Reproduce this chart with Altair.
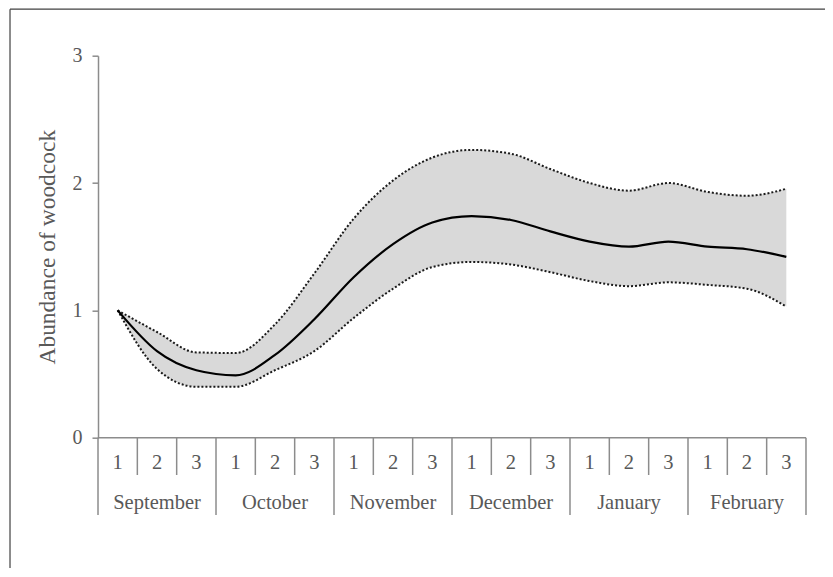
import altair as alt
import pandas as pd

months = ["September", "October", "November", "December", "January", "February"]
decades = ["1", "2", "3"]
mean = [1.00, 0.68, 0.53, 0.49, 0.65, 0.93, 1.26, 1.52, 1.69, 1.74, 1.71, 1.62, 1.54, 1.50, 1.54, 1.50, 1.48, 1.42]
upper = [1.00, 0.83, 0.67, 0.665, 0.89, 1.29, 1.72, 2.02, 2.20, 2.26, 2.23, 2.11, 2.00, 1.94, 2.00, 1.93, 1.90, 1.955]
lower = [1.00, 0.54, 0.40, 0.40, 0.53, 0.68, 0.94, 1.17, 1.34, 1.38, 1.36, 1.30, 1.23, 1.19, 1.22, 1.20, 1.17, 1.03]
y_ticks = [0, 1, 2, 3]

TXT = "#595959"
AX = "#8c8c8c"
FONT = "Liberation Serif"

n = len(mean)
df = pd.DataFrame({
    "pos": [i + 0.5 for i in range(n)],
    "mean": mean,
    "upper": upper,
    "lower": lower,
    "decade": [decades[i % 3] for i in range(n)],
    "month": [months[i // 3] for i in range(n)],
})

# separators below the axis (decade and month boundaries)
sep_df = pd.DataFrame({
    "x": list(range(n + 1)),
    "top": [0] * (n + 1),
    "bottom": [-0.607 if i % 3 == 0 else -0.293 for i in range(n + 1)],
})
hline_df = pd.DataFrame({"x0": [0], "x1": [n], "y": [0]})
month_df = pd.DataFrame({"pos": [3 * m + 1.5 for m in range(len(months))], "month": months, "y": [-0.513] * len(months)})
dec_df = df.assign(y=-0.2)

xs = alt.Scale(domain=[0, n], nice=False, zero=False)
ys = alt.Scale(domain=[0, 3], nice=False)
y_axis = alt.Axis(values=y_ticks, title="Abundance of woodcock", grid=False, tickSize=6,
                  labelPadding=10, titlePadding=13)

band = alt.Chart(df).mark_area(color="#d9d9d9", interpolate="monotone").encode(
    x=alt.X("pos:Q", scale=xs, axis=None),
    y=alt.Y("lower:Q", scale=ys, axis=y_axis),
    y2="upper:Q",
)
dot_style = dict(color="#1a1a1a", strokeWidth=2, strokeDash=[2, 2], interpolate="monotone")
up_line = alt.Chart(df).mark_line(**dot_style).encode(
    x=alt.X("pos:Q", scale=xs, axis=None),
    y=alt.Y("upper:Q", scale=ys, axis=y_axis),
)
lo_line = alt.Chart(df).mark_line(**dot_style).encode(
    x=alt.X("pos:Q", scale=xs, axis=None),
    y=alt.Y("lower:Q", scale=ys, axis=y_axis),
)
main_line = alt.Chart(df).mark_line(color="#000000", strokeWidth=2.2, interpolate="monotone").encode(
    x=alt.X("pos:Q", scale=xs, axis=None),
    y=alt.Y("mean:Q", scale=ys, axis=y_axis),
)

hline = alt.Chart(hline_df).mark_rule(color=AX, strokeWidth=1.5).encode(
    x=alt.X("x0:Q", scale=xs, axis=None),
    x2="x1:Q",
    y=alt.Y("y:Q", scale=ys, axis=y_axis),
)
seps = alt.Chart(sep_df).mark_rule(color=AX, strokeWidth=1.5).encode(
    x=alt.X("x:Q", scale=xs, axis=None),
    y=alt.Y("top:Q", scale=ys, axis=y_axis),
    y2="bottom:Q",
)
dec_text = alt.Chart(dec_df).mark_text(font=FONT, fontSize=20.5, color=TXT, baseline="middle").encode(
    x=alt.X("pos:Q", scale=xs, axis=None),
    y=alt.Y("y:Q", scale=ys, axis=y_axis),
    text="decade:N",
)
mon_text = alt.Chart(month_df).mark_text(font=FONT, fontSize=20.5, color=TXT, baseline="middle").encode(
    x=alt.X("pos:Q", scale=xs, axis=None),
    y=alt.Y("y:Q", scale=ys, axis=y_axis),
    text="month:N",
)

frame_df = pd.DataFrame({"a": [0]})
frame_left = alt.Chart(frame_df).mark_rule(color="#404040", strokeWidth=1.2).encode(
    x=alt.value(-88), y=alt.value(-46.5), y2=alt.value(700)
)
frame_top = alt.Chart(frame_df).mark_rule(color="#404040", strokeWidth=1.2).encode(
    x=alt.value(-88), x2=alt.value(900), y=alt.value(-46.5)
)

chart = alt.layer(
    band, up_line, lo_line, main_line, hline, seps, dec_text, mon_text, frame_left, frame_top
).properties(
    width=708, height=382,
    padding={"left": 90, "top": 47.7, "right": 19, "bottom": 130},
    autosize=alt.AutoSizeParams(type="none"),
).configure_view(
    stroke="transparent"
).configure_axis(
    labelFont=FONT, titleFont=FONT, labelFontSize=20, titleFontSize=23.5,
    titleFontWeight="normal", labelColor=TXT, titleColor=TXT,
    domainColor=AX, tickColor=AX, domainWidth=1.5, tickWidth=1.5,
)

chart.save("out.html", embed_options={"renderer": "svg", "actions": False})
